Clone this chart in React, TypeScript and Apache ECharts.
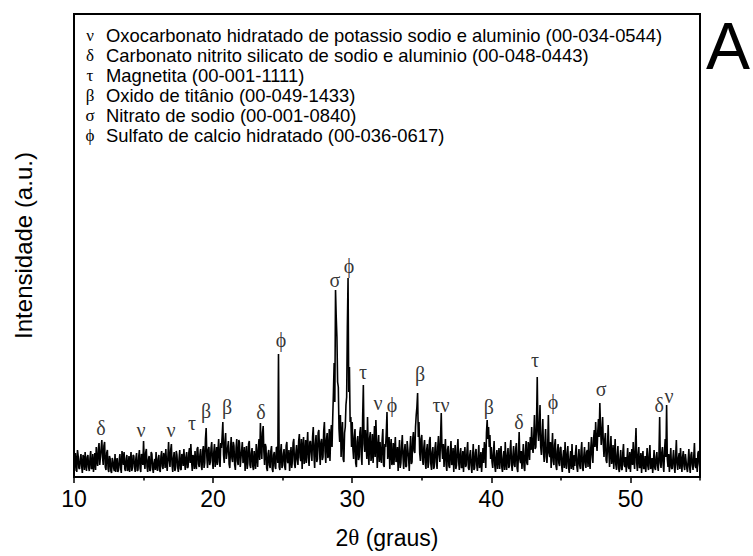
import React, { useEffect, useRef } from "react";
import * as echarts from "echarts";

// 2θ scan: 10.00° to 55.00° in 0.05° steps (one row per degree)
const thetaStart = 10;
const thetaStep = 0.05;
const intensity: number[] = [
  12, 6, 24, 15, 5, 27, 21, 9, 8, 18, 23, 11, 4, 22, 19, 7, 25, 13, 6, 20,
  22, 10, 6, 19, 26, 8, 9, 23, 5, 14, 24, 7, 30, 16, 11, 28, 34, 12, 20, 29,
  37, 20, 12, 31, 35, 10, 7, 24, 27, 8, 5, 21, 18, 6, 4, 19, 16, 9, 6, 23,
  5, 14, 19, 5, 7, 17, 23, 9, 4, 26, 20, 12, 25, 8, 6, 18, 22, 6, 8, 21,
  5, 16, 25, 6, 9, 22, 21, 10, 5, 19, 24, 6, 7, 20, 27, 9, 5, 23, 20, 12,
  36, 15, 8, 24, 28, 10, 5, 17, 21, 6, 7, 25, 23, 9, 4, 14, 18, 7, 25, 11,
  6, 18, 22, 7, 5, 21, 26, 11, 8, 24, 20, 9, 28, 14, 6, 20, 35, 17, 10, 27,
  33, 12, 5, 19, 25, 6, 9, 26, 22, 10, 5, 18, 27, 8, 7, 23, 21, 11, 28, 15,
  7, 20, 25, 9, 10, 24, 29, 14, 33, 17, 6, 22, 20, 8, 26, 12, 8, 28, 30, 13,
  10, 22, 28, 11, 7, 26, 31, 9, 14, 38, 49, 20, 9, 27, 30, 12, 15, 29, 35, 16,
  8, 25, 33, 10, 18, 30, 12, 27, 38, 15, 10, 34, 29, 41, 55, 22, 14, 36, 44, 18,
  18, 30, 36, 13, 9, 28, 40, 19, 15, 35, 31, 12, 7, 29, 38, 16, 12, 37, 34, 10,
  10, 27, 35, 14, 18, 30, 6, 20, 31, 8, 14, 33, 36, 12, 9, 24, 29, 11, 7, 26,
  16, 8, 33, 21, 10, 29, 38, 17, 54, 30, 18, 44, 51, 25, 12, 33, 30, 9, 6, 23,
  27, 12, 9, 26, 31, 8, 5, 22, 25, 11, 8, 30, 29, 14, 123, 10, 7, 25, 33, 9,
  12, 23, 28, 10, 7, 31, 35, 15, 14, 27, 6, 18, 30, 9, 16, 34, 38, 13, 9, 24,
  32, 17, 12, 36, 43, 20, 16, 38, 8, 28, 40, 13, 20, 37, 14, 30, 45, 19, 11, 35,
  36, 24, 16, 40, 50, 22, 9, 33, 42, 15, 18, 44, 47, 26, 12, 35, 38, 17, 20, 46,
  55, 25, 14, 38, 44, 19, 22, 48, 16, 40, 52, 30, 60, 85, 114, 75, 187, 160, 140, 95,
  90, 48, 35, 62, 20, 40, 55, 18, 15, 44, 50, 72, 80, 150, 199, 85, 110, 55, 60, 30,
  55, 28, 18, 40, 48, 14, 10, 36, 41, 17, 20, 45, 50, 22, 12, 60, 92, 33, 25, 47,
  33, 18, 60, 27, 12, 39, 45, 16, 22, 43, 14, 30, 51, 20, 57, 35, 9, 31, 42, 15,
  35, 20, 14, 37, 48, 12, 10, 33, 30, 45, 65, 18, 26, 40, 8, 29, 38, 12, 15, 34,
  12, 28, 40, 15, 18, 30, 6, 22, 37, 9, 14, 31, 42, 20, 8, 26, 33, 10, 11, 36,
  36, 19, 6, 28, 41, 13, 15, 38, 45, 26, 24, 50, 62, 70, 84, 40, 55, 24, 16, 38,
  42, 18, 12, 30, 37, 14, 8, 27, 33, 9, 15, 36, 40, 13, 7, 25, 30, 8, 10, 29,
  35, 15, 8, 30, 41, 22, 15, 40, 64, 28, 18, 33, 10, 24, 38, 12, 6, 27, 31, 11,
  9, 25, 36, 12, 14, 29, 5, 20, 32, 8, 12, 28, 38, 15, 7, 23, 29, 9, 10, 26,
  5, 21, 30, 10, 12, 26, 35, 9, 7, 22, 27, 11, 4, 19, 33, 7, 9, 24, 28, 12,
  6, 20, 32, 9, 11, 25, 5, 17, 29, 14, 35, 27, 9, 44, 57, 38, 50, 30, 42, 18,
  30, 15, 9, 24, 36, 11, 5, 20, 27, 8, 18, 29, 8, 22, 31, 10, 5, 19, 26, 7,
  35, 14, 7, 22, 29, 9, 11, 27, 37, 13, 6, 21, 31, 12, 10, 28, 34, 9, 5, 24,
  45, 18, 14, 26, 8, 20, 33, 10, 6, 25, 36, 14, 12, 35, 30, 17, 40, 27, 50, 31,
  24, 40, 62, 28, 30, 55, 100, 45, 36, 52, 72, 30, 22, 41, 58, 25, 15, 34, 48, 20,
  14, 30, 62, 24, 20, 35, 9, 27, 44, 16, 12, 32, 38, 11, 7, 26, 33, 14, 11, 29,
  30, 12, 5, 20, 27, 9, 35, 15, 8, 24, 31, 10, 4, 18, 26, 8, 33, 13, 7, 22,
  11, 24, 32, 10, 5, 19, 28, 12, 8, 26, 35, 9, 6, 21, 30, 14, 9, 25, 27, 10,
  35, 17, 8, 29, 40, 22, 14, 38, 47, 30, 55, 36, 26, 45, 58, 40, 74, 50, 32, 44,
  60, 33, 20, 37, 44, 17, 14, 30, 52, 25, 10, 28, 41, 13, 18, 32, 8, 21, 38, 12,
  7, 22, 31, 9, 5, 18, 27, 8, 7, 24, 33, 12, 10, 20, 5, 17, 29, 10, 8, 25,
  5, 19, 28, 12, 35, 16, 8, 30, 49, 14, 6, 22, 30, 9, 10, 24, 4, 18, 26, 8,
  9, 21, 5, 16, 29, 11, 7, 23, 32, 8, 10, 19, 4, 14, 27, 9, 7, 20, 25, 11,
  6, 22, 60, 14, 9, 24, 30, 12, 5, 26, 38, 20, 72, 18, 10, 23, 5, 16, 29, 9,
  8, 18, 27, 10, 4, 21, 37, 13, 7, 19, 24, 8, 29, 15, 5, 20, 26, 11, 7, 23,
  23, 9, 5, 17, 28, 10, 4, 22, 25, 12, 7, 20, 34, 11, 9, 19, 5, 24, 26, 13,
  8,
];

// peak annotations
const peakSymbols = ["δ", "ν", "ν", "τ", "β", "β", "δ", "ϕ", "σ", "ϕ", "τ", "ν", "ϕ", "β", "τν", "β", "δ", "τ", "ϕ", "σ", "δ", "ν"];
const peakTheta = [11.94, 14.82, 16.97, 18.48, 19.49, 21.0, 23.44, 24.88, 28.76, 29.77, 30.78, 31.85, 32.86, 34.87, 36.38, 39.83, 41.99, 43.14, 44.44, 47.89, 52.06, 52.78];
const peakLabelY = [49, 47, 47, 54, 66, 70, 65, 137, 197, 211, 105, 74, 72, 103, 72, 70, 55, 117, 75, 88, 72, 81];

// phase legend
const legendSymbols = ["ν", "δ", "τ", "β", "σ", "ϕ"];
const legendTexts = [
  "Oxocarbonato hidratado de potassio sodio e aluminio (00-034-0544)",
  "Carbonato nitrito silicato de sodio e aluminio (00-048-0443)",
  "Magnetita (00-001-1111)",
  "Oxido de titânio (00-049-1433)",
  "Nitrato de sodio (00-001-0840)",
  "Sulfato de calcio hidratado (00-036-0617)",
];

const majorTicks = [10, 20, 30, 40, 50];
const minorTicks = [15, 25, 35, 45, 55];

const SANS = "'Liberation Sans', Arial, sans-serif";
const SERIF = "'Liberation Serif', 'Times New Roman', serif";

export default function App() {
  const ref = useRef<HTMLDivElement>(null);

  useEffect(() => {
    document.body.style.margin = "0";
    if (!ref.current) return;
    const chart = echarts.init(ref.current, null, { renderer: "svg" });

    const lineData = intensity.map((v, i) => [
      +(thetaStart + i * thetaStep).toFixed(2),
      v,
    ]);
    const labelData = peakSymbols.map((s, i) => ({
      name: s,
      value: [peakTheta[i], peakLabelY[i]],
    }));

    const graphics: any[] = [];
    legendSymbols.forEach((s, i) => {
      const y = 35.5 + i * 19.9;
      graphics.push({
        type: "text",
        x: 90,
        y,
        style: {
          text: s,
          font: `17px ${SERIF}`,
          fill: "#000",
          align: "center",
          verticalAlign: "middle",
        },
      });
      graphics.push({
        type: "text",
        x: 106,
        y,
        style: {
          text: legendTexts[i],
          font: `18.4px ${SANS}`,
          fill: "#000",
          align: "left",
          verticalAlign: "middle",
        },
      });
    });
    graphics.push({
      type: "text",
      x: 728,
      y: 46,
      style: {
        text: "A",
        font: `66px ${SANS}`,
        fill: "#000",
        align: "center",
        verticalAlign: "middle",
      },
    });

    chart.setOption({
      animation: false,
      backgroundColor: "#fff",
      grid: {
        left: 74,
        right: 53,
        top: 14,
        bottom: 79,
        show: true,
        borderColor: "#000",
        borderWidth: 2,
        backgroundColor: "transparent",
      },
      xAxis: [
        {
          type: "value",
          min: 10,
          max: 55,
          interval: 5,
          position: "bottom",
          axisLine: { show: true, onZero: false, lineStyle: { color: "#000", width: 2 } },
          axisTick: {
            show: true,
            inside: false,
            length: 6,
            customValues: majorTicks,
            lineStyle: { color: "#000", width: 1.5 },
          },
          axisLabel: {
            show: true,
            customValues: majorTicks,
            color: "#000",
            fontFamily: SANS,
            fontSize: 23,
            margin: 10,
          },
          splitLine: { show: false },
          name: "2{t|θ} (graus)",
          nameLocation: "middle",
          nameGap: 49,
          nameTextStyle: {
            color: "#000",
            fontFamily: SANS,
            fontSize: 23,
            rich: {
              t: { fontFamily: SERIF, fontSize: 23, color: "#000" },
            },
          },
        },
        {
          type: "value",
          min: 10,
          max: 55,
          interval: 5,
          position: "bottom",
          axisLine: { show: false, onZero: false },
          axisTick: {
            show: true,
            inside: false,
            length: 3.5,
            customValues: minorTicks,
            lineStyle: { color: "#000", width: 1.5 },
          },
          axisLabel: { show: false },
          splitLine: { show: false },
        },
      ],
      yAxis: {
        type: "value",
        min: 0,
        max: 463,
        axisLine: { show: false },
        axisTick: { show: false },
        axisLabel: { show: false },
        splitLine: { show: false },
        name: "Intensidade (a.u.)",
        nameLocation: "middle",
        nameGap: 39,
        nameRotate: 90,
        nameTextStyle: { color: "#000", fontFamily: SANS, fontSize: 24 },
      },
      series: [
        {
          type: "line",
          xAxisIndex: 0,
          data: lineData,
          showSymbol: false,
          symbol: "none",
          lineStyle: { color: "#000", width: 1.6 },
          clip: true,
          z: 2,
        },
        {
          type: "scatter",
          xAxisIndex: 0,
          data: labelData,
          symbolSize: 0,
          silent: true,
          itemStyle: { color: "#000" },
          label: {
            show: true,
            position: "inside",
            formatter: "{b}",
            color: "#000",
            textBorderWidth: 0,
            textBorderColor: "transparent",
            fontFamily: SERIF,
            fontSize: 20,
          },
          z: 3,
        },
      ],
      graphic: graphics,
    });

    return () => chart.dispose();
  }, []);

  return <div ref={ref} style={{ width: 753, height: 556 }} />;
}
